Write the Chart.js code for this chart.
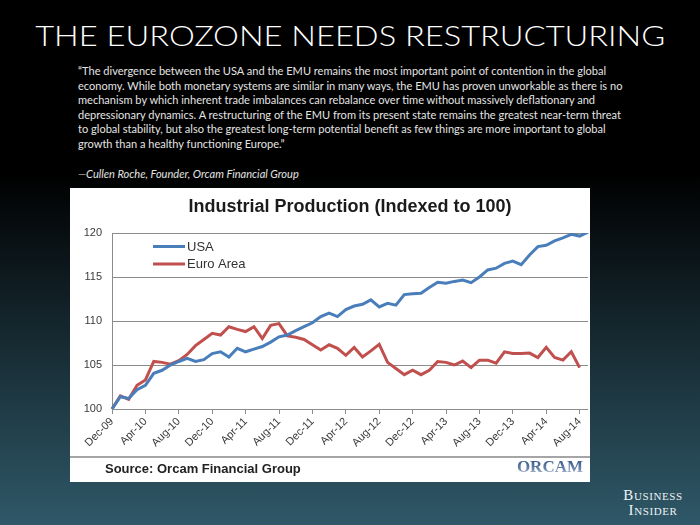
<!DOCTYPE html>
<html>
<head>
<meta charset="utf-8">
<script src="https://cdn.jsdelivr.net/npm/chart.js@4.4.1/dist/chart.umd.min.js"></script>
<style>
  html, body { margin: 0; padding: 0; }
  body {
    width: 700px; height: 525px; overflow: hidden; position: relative;
    background: linear-gradient(to bottom, #000 0%, #000 33%, #2f5868 100%);
    font-family: Lato, "Open Sans", sans-serif;
  }
  #title {
    position: absolute; left: 0; top: 18px; width: 700px; text-align: center;
    color: #fff; font-weight: 300; font-size: 28px; line-height: 34px; white-space: nowrap;
  }
  #title span { display: inline-block; transform-origin: 50% 50%; }
  #quote {
    position: absolute; left: 78px; top: 64px; color: #e4e4e4;
    font-size: 10.5px; line-height: 14.6px; white-space: nowrap;
  }
  #author {
    position: absolute; left: 78px; top: 167px; color: #e4e4e4;
    font-style: italic; font-size: 10.5px; line-height: 14.6px; white-space: nowrap;
  }
  #panel { position: absolute; left: 70px; top: 188px; width: 520px; height: 294px; background: #fff; }
  #bi {
    position: absolute; left: 622px; top: 488px; width: 62px; text-align: center;
    color: #eef3f5; font-family: "Liberation Serif", "DejaVu Serif", serif;
    font-variant: small-caps; font-size: 15px; line-height: 15px; letter-spacing: 0.6px;
  }
</style>
</head>
<body>
<div id="title"><span id="titleText">THE EUROZONE NEEDS RESTRUCTURING</span></div>
<div id="quote">
  <div>“The divergence between the USA and the EMU remains the most important point of contention in the global</div>
  <div>economy. While both monetary systems are similar in many ways, the EMU has proven unworkable as there is no</div>
  <div>mechanism by which inherent trade imbalances can rebalance over time without massively deflationary and</div>
  <div>depressionary dynamics. A restructuring of the EMU from its present state remains the greatest near-term threat</div>
  <div>to global stability, but also the greatest long-term potential benefit as few things are more important to global</div>
  <div>growth than a healthy functioning Europe.”</div>
</div>
<div id="author">—Cullen Roche, Founder, Orcam Financial Group</div>
<div id="panel"><canvas id="chart" width="520" height="294"></canvas></div>
<div id="bi">Business<br>Insider</div>
<script>
// monthly categories
const months = [
  "Dec-09",
  "Jan-10", "Feb-10", "Mar-10", "Apr-10", "May-10", "Jun-10", "Jul-10", "Aug-10", "Sep-10", "Oct-10", "Nov-10", "Dec-10",
  "Jan-11", "Feb-11", "Mar-11", "Apr-11", "May-11", "Jun-11", "Jul-11", "Aug-11", "Sep-11", "Oct-11", "Nov-11", "Dec-11",
  "Jan-12", "Feb-12", "Mar-12", "Apr-12", "May-12", "Jun-12", "Jul-12", "Aug-12", "Sep-12", "Oct-12", "Nov-12", "Dec-12",
  "Jan-13", "Feb-13", "Mar-13", "Apr-13", "May-13", "Jun-13", "Jul-13", "Aug-13", "Sep-13", "Oct-13", "Nov-13", "Dec-13",
  "Jan-14", "Feb-14", "Mar-14", "Apr-14", "May-14", "Jun-14", "Jul-14", "Aug-14", "Sep-14"
];

// Industrial production, Dec-09 = 100
const usa = [
  100, 101.4, 101.2, 102.2, 102.7, 104.05, 104.4, 105.0, 105.4, 105.75,
  105.4, 105.6, 106.3, 106.5, 105.9, 106.9, 106.5, 106.8, 107.1, 107.6,
  108.2, 108.4, 108.9, 109.35, 109.8, 110.5, 110.9, 110.5, 111.3, 111.7,
  111.9, 112.4, 111.6, 112.0, 111.8, 113.0, 113.1, 113.15, 113.8, 114.4,
  114.3, 114.5, 114.65, 114.35, 115.0, 115.8, 116.0, 116.55, 116.8, 116.4,
  117.5, 118.45, 118.6, 119.1, 119.45, 119.85, 119.65, 120.1
];
const euro = [
  100, 101.5, 101.1, 102.7, 103.3, 105.4, 105.3, 105.1, 105.5, 106.2,
  107.2, 107.9, 108.6, 108.4, 109.35, 109.05, 108.8, 109.35, 108.0, 109.5,
  109.7, 108.3, 108.15, 107.9, 107.3, 106.7, 107.3, 106.9, 106.1, 107.0,
  105.9, 106.6, 107.35, 105.3, 104.6, 103.9, 104.4, 103.9, 104.4, 105.4,
  105.3, 105.0, 105.45, 104.7, 105.55, 105.55, 105.2, 106.5, 106.3, 106.3,
  106.35, 105.85, 107.0, 105.85, 105.55, 106.5, 104.7
];

const seriesNames = ["USA", "Euro Area"];
const seriesColors = ["#4a7ebb", "#c0504d"];
const yTicks = [100, 105, 110, 115, 120];
const tickStep = 4; // label every 4th month
const chartTitle = "Industrial Production (Indexed to 100)";
const sourceNote = "Source: Orcam Financial Group";

// stretch title / size quote to the slide's widths
const titleText = document.getElementById("titleText");
const tw = titleText.getBoundingClientRect().width;
titleText.style.transform = "scaleX(" + (630 / tw) + ")";
const quote = document.getElementById("quote");
const qw = quote.getBoundingClientRect().width;
const qSize = 10.5 * 545 / qw;
quote.style.fontSize = qSize + "px";
document.getElementById("author").style.fontSize = qSize + "px";

Chart.defaults.font.family = '"Liberation Sans", Arial, sans-serif';

// legend drawn inside the plot, top-left, one row per series
const insideLegend = {
  id: "insideLegend",
  afterDatasetsDraw(chart) {
    const { ctx, chartArea } = chart;
    chart.data.datasets.forEach((ds, i) => {
      const y = chartArea.top + 13.5 + i * 17.5;
      const x0 = chartArea.left + 41;
      ctx.save();
      ctx.strokeStyle = ds.borderColor;
      ctx.lineWidth = 3;
      ctx.beginPath();
      ctx.moveTo(x0, y);
      ctx.lineTo(x0 + 32, y);
      ctx.stroke();
      ctx.fillStyle = "#333";
      ctx.font = '13px "Liberation Sans", Arial, sans-serif';
      ctx.textBaseline = "middle";
      ctx.fillText(ds.label, x0 + 34, y + 0.5);
      ctx.restore();
    });
  }
};

// separator, source line and the ORCAM mark under the plot
const footer = {
  id: "footer",
  afterDraw(chart) {
    const { ctx, width } = chart;
    ctx.save();
    ctx.fillStyle = "#a5a5a5";
    ctx.fillRect(0, 268, width, 2);
    ctx.fillStyle = "#222";
    ctx.font = 'bold 13px "Liberation Sans", Arial, sans-serif';
    ctx.textBaseline = "middle";
    ctx.fillText(sourceNote, 35, 281.5);
    const g = ctx.createLinearGradient(0, 273, 0, 286);
    g.addColorStop(0, "#3c5c8c");
    g.addColorStop(0.6, "#6a84ac");
    g.addColorStop(1, "#b9c5d8");
    ctx.fillStyle = g;
    ctx.font = 'bold 17px "Liberation Serif", serif';
    ctx.textAlign = "right";
    ctx.textBaseline = "alphabetic";
    ctx.fillText("ORCAM", 513, 284);
    ctx.restore();
  }
};

new Chart(document.getElementById("chart"), {
  type: "line",
  data: {
    labels: months,
    datasets: [
      { label: seriesNames[0], data: usa, borderColor: seriesColors[0], borderWidth: 3, pointRadius: 0, tension: 0 },
      { label: seriesNames[1], data: euro, borderColor: seriesColors[1], borderWidth: 3, pointRadius: 0, tension: 0 }
    ]
  },
  options: {
    responsive: false,
    animation: false,
    layout: { padding: { left: 0, right: 2, top: 0, bottom: 35 } },
    plugins: {
      legend: { display: false },
      tooltip: { enabled: false },
      title: {
        display: true, fullSize: false, text: chartTitle, color: "#1b1b1b",
        font: { size: 18, weight: "bold" }, padding: { top: 8, bottom: 15.4 }
      }
    },
    scales: {
      x: {
        type: "category",
        afterBuildTicks: (s) => { s.ticks = s.ticks.filter((t) => t.value % tickStep === 0); },
        afterFit: (s) => { s.height = 38; },
        grid: { drawOnChartArea: false, drawTicks: true, tickLength: 5, color: "#8c8c8c" },
        border: { color: "#8c8c8c" },
        ticks: { autoSkip: false, minRotation: 45, maxRotation: 45, color: "#3a3a3a", font: { size: 11 }, padding: 1 }
      },
      y: {
        min: 100,
        max: 120,
        afterBuildTicks: (s) => { s.ticks = yTicks.map((v) => ({ value: v })); },
        afterFit: (s) => { s.width = 42; },
        ticks: { color: "#3a3a3a", font: { size: 11 }, padding: 10 },
        grid: { color: "#8c8c8c", drawTicks: false },
        border: { color: "#8c8c8c" }
      }
    }
  },
  plugins: [insideLegend, footer]
});
</script>
</body>
</html>
